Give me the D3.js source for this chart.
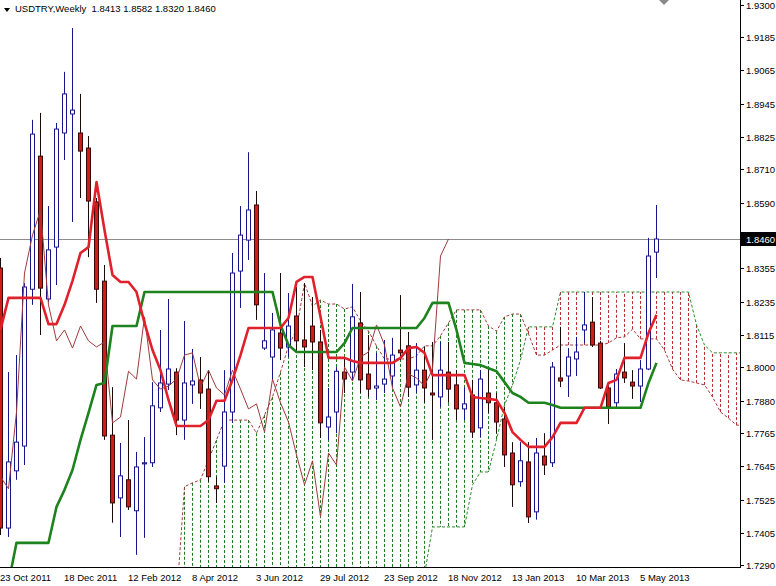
<!DOCTYPE html>
<html><head><meta charset="utf-8">
<script src="https://cdn.jsdelivr.net/npm/d3@7"></script>
<style>body{margin:0;background:#fff;} svg{display:block;font-family:"Liberation Sans",Arial,sans-serif;}</style>
</head><body><svg id="c" width="776" height="586"></svg>
<script>
const title = "USDTRY,Weekly  1.8413 1.8582 1.8320 1.8460";
const lastPrice = 1.8460;
const open = [1.8356,1.7424,1.7629,1.7718,1.8280,1.8757,1.8245,1.8431,1.8840,1.8908,
1.8840,1.8786,1.8593,1.8309,1.7757,1.7532,1.7597,1.7486,1.7654,1.7658,
1.7855,1.7940,1.7983,1.7811,1.7937,1.7955,1.7922,1.7575,1.7646,1.7840,
1.8345,1.8456,1.8582,1.8069,1.8037,1.8123,1.8073,1.8184,1.8098,1.8148,
1.8091,1.7786,1.7840,1.7983,1.7983,1.8159,1.7976,1.7926,1.7940,1.7969,
1.8062,1.8077,1.7937,1.7990,1.7908,1.7894,1.7983,1.7937,1.7851,1.7901,
1.7783,1.7908,1.7873,1.7815,1.7693,1.7590,1.7661,1.7482,1.7682,1.7658,
1.7962,1.7969,1.8030,1.8134,1.8162,1.8087,1.7926,1.7873,1.7983,1.7947,
1.7933,1.7994,1.8413];
const high = [1.8392,1.7983,1.8044,1.8302,1.8887,1.8912,1.8578,1.8876,1.9059,1.9216,
1.8980,1.8829,1.8607,1.8367,1.7929,1.7729,1.7811,1.7697,1.7750,1.7947,
1.8134,1.8245,1.7997,1.8166,1.8066,1.8037,1.7990,1.7608,1.7990,1.8410,
1.8578,1.8771,1.8632,1.8338,1.8195,1.8338,1.8266,1.8288,1.8302,1.8252,
1.8134,1.7926,1.8001,1.8037,1.8299,1.8270,1.8116,1.8052,1.8098,1.8106,
1.8259,1.8127,1.8087,1.8073,1.8091,1.8091,1.8091,1.7990,1.7929,1.7955,
1.7990,1.7997,1.7908,1.7858,1.7732,1.7732,1.7732,1.7747,1.7764,1.8019,
1.8145,1.8069,1.8109,1.8270,1.8252,1.8095,1.7944,1.7994,1.8087,1.7990,
1.8026,1.8464,1.8582];
const low = [1.7399,1.7392,1.7597,1.7650,1.8224,1.8116,1.8234,1.8295,1.8743,1.8521,
1.8607,1.8395,1.8231,1.7740,1.7443,1.7392,1.7489,1.7328,1.7389,1.7643,
1.7840,1.7919,1.7757,1.7740,1.7869,1.7851,1.7590,1.7514,1.7586,1.7801,
1.8213,1.8385,1.8170,1.8062,1.7955,1.8026,1.8037,1.8052,1.8001,1.7990,
1.7747,1.7740,1.7764,1.7908,1.7955,1.7908,1.7894,1.7883,1.7908,1.7929,
1.8026,1.7894,1.7908,1.7873,1.7740,1.7858,1.7873,1.7811,1.7811,1.7747,
1.7750,1.7837,1.7764,1.7643,1.7500,1.7572,1.7442,1.7454,1.7614,1.7643,
1.7929,1.7894,1.7969,1.8087,1.8073,1.7922,1.7797,1.7855,1.7944,1.7887,
1.7876,1.7990,1.8320];
const close = [1.7424,1.7661,1.7732,1.8288,1.8836,1.8284,1.8421,1.8854,1.8980,1.8922,
1.8775,1.8596,1.8280,1.7754,1.7514,1.7611,1.7500,1.7643,1.7658,1.7862,
1.7944,1.7994,1.7811,1.7944,1.7951,1.7908,1.7608,1.7565,1.7840,1.8338,
1.8474,1.8564,1.8224,1.8095,1.8134,1.8069,1.8148,1.8095,1.8073,1.8091,
1.7801,1.7822,1.7986,1.7958,1.8181,1.7955,1.7922,1.7933,1.7958,1.8044,
1.8052,1.7929,1.7990,1.7926,1.7901,1.7990,1.7922,1.7851,1.7869,1.7768,
1.7958,1.7873,1.7804,1.7686,1.7579,1.7665,1.7464,1.7693,1.7650,1.8001,
1.7951,1.8037,1.8055,1.8152,1.8080,1.7926,1.7858,1.7976,1.7962,1.7933,
1.7994,1.8399,1.8460];
const tenkan = [1.8134,1.8249,1.8249,1.8249,1.8249,1.8249,1.8155,1.8155,1.8224,1.8310,
1.8410,1.8431,1.8664,1.8492,1.8331,1.8306,1.8306,1.8270,1.8159,1.8062,
1.7990,1.7883,1.7790,1.7790,1.7790,1.7790,1.7811,1.7880,1.7880,1.7955,
1.8044,1.8141,1.8141,1.8141,1.8141,1.8141,1.8177,1.8306,1.8324,1.8324,
1.8181,1.8034,1.8034,1.8034,1.8023,1.8016,1.8016,1.8016,1.8016,1.8016,
1.8034,1.8069,1.8073,1.8052,1.7972,1.7972,1.7972,1.7972,1.7972,1.7894,
1.7890,1.7887,1.7883,1.7837,1.7768,1.7740,1.7715,1.7715,1.7715,1.7750,
1.7801,1.7801,1.7801,1.7855,1.7855,1.7855,1.7944,1.7955,1.8034,1.8034,
1.8034,1.8123,1.8188];
const kijun = [1.7202,1.7227,1.7371,1.7371,1.7371,1.7371,1.7371,1.7500,1.7561,1.7632,
1.7740,1.7837,1.7937,1.7944,1.8148,1.8148,1.8148,1.8148,1.8270,1.8270,
1.8270,1.8270,1.8270,1.8270,1.8270,1.8270,1.8270,1.8270,1.8270,1.8270,
1.8270,1.8270,1.8270,1.8270,1.8270,1.8152,1.8080,1.8055,1.8055,1.8055,
1.8055,1.8055,1.8055,1.8087,1.8141,1.8141,1.8141,1.8141,1.8141,1.8141,
1.8141,1.8141,1.8141,1.8177,1.8231,1.8231,1.8231,1.8134,1.8016,1.8012,
1.8008,1.7997,1.7986,1.7947,1.7908,1.7894,1.7873,1.7873,1.7873,1.7865,
1.7855,1.7855,1.7855,1.7855,1.7855,1.7855,1.7855,1.7855,1.7855,1.7855,
1.7855,1.7944,1.8016];
const spanStart = 22; // first bar of the (forward-shifted) cloud
const spanA = [1.7166,1.7572,1.7586,1.7597,1.7668,1.7740,1.7811,1.7811,1.7811,1.7811,
1.7764,1.7829,1.7894,1.7983,1.8077,1.8134,1.8302,1.8220,1.8241,1.8227,
1.8227,1.8209,1.8217,1.8166,1.8130,1.8077,1.8030,1.8030,1.8030,1.8030,
1.8041,1.8077,1.8077,1.8113,1.8159,1.8206,1.8206,1.8206,1.8206,1.8148,
1.8130,1.8181,1.8191,1.8191,1.8120,1.8044,1.8044,1.8062,1.8080,1.8080,
1.8080,1.8080,1.8080,1.8080,1.8087,1.8106,1.8109,1.8137,1.8102,1.8102,
1.8102,1.8062,1.7994,1.7955,1.7951,1.7944,1.7937,1.7894,1.7840,1.7818,
1.7793,1.7793];
const spanB = [1.7000,1.7000,1.7000,1.7000,1.7000,1.7000,1.7000,1.7000,1.7000,1.7000,
1.7000,1.7000,1.7000,1.7000,1.7000,1.7000,1.7000,1.7000,1.7000,1.7000,
1.7000,1.7000,1.7000,1.7000,1.7000,1.7000,1.7000,1.7000,1.7000,1.7000,
1.7000,1.7256,1.7428,1.7428,1.7428,1.7428,1.7428,1.7579,1.7625,1.7625,
1.7740,1.7865,1.7937,1.8026,1.8145,1.8145,1.8145,1.8145,1.8270,1.8270,
1.8270,1.8270,1.8270,1.8270,1.8270,1.8270,1.8270,1.8270,1.8270,1.8270,
1.8270,1.8270,1.8270,1.8270,1.8270,1.8152,1.8080,1.8052,1.8052,1.8052,
1.8052,1.8052];
const chikouShift = 26;
const priceTicks = [1.9300,1.9185,1.9065,1.8945,1.8825,1.8710,1.8590,1.8475,1.8355,1.8235,1.8115,1.8000,1.7880,1.7765,1.7645,1.7525,1.7405,1.7290];
const dateLabels = ["23 Oct 2011","18 Dec 2011","12 Feb 2012","8 Apr 2012","3 Jun 2012","29 Jul 2012","23 Sep 2012","18 Nov 2012","13 Jan 2013","10 Mar 2013","5 May 2013"];
const dateLabelBars = [0,8,16,24,32,40,48,56,64,72,80];

const PR = 740, PB = 567;
const svg = d3.select("#c");
const x = d3.scaleLinear().domain([0,1]).range([0.5,8.5]);
const y = d3.scaleLinear().domain([1.72844,1.93166]).range([PB,0]);

svg.append("defs").append("clipPath").attr("id","clip")
  .append("rect").attr("x",0).attr("y",0).attr("width",PR).attr("height",PB);
const g = svg.append("g").attr("clip-path","url(#clip)");

// cloud fill (dotted histogram)
const spanIdx = spanA.map((d,k)=>k+spanStart);
g.append("g").selectAll("line").data(spanIdx).join("line")
  .attr("x1",i=>x(i)).attr("x2",i=>x(i))
  .attr("y1",(i,k)=>y(spanA[k])).attr("y2",(i,k)=>y(spanB[k]))
  .attr("stroke",(i,k)=>spanA[k]>=spanB[k]?"#1f7a1f":"#b83232")
  .attr("stroke-width",1).attr("stroke-dasharray","3,2");
// span lines
const spanLine = arr => d3.line().x((d,k)=>x(k+spanStart)).y(d=>y(d))(arr);
g.append("path").attr("d",spanLine(spanB)).attr("fill","none")
  .attr("stroke","#2a8a2a").attr("stroke-width",1).attr("stroke-dasharray","3,2");
g.append("path").attr("d",spanLine(spanA)).attr("fill","none")
  .attr("stroke","#a83a3a").attr("stroke-width",1).attr("stroke-dasharray","3,2");

// price line
g.append("line").attr("x1",0).attr("x2",PR)
  .attr("y1",Math.round(y(lastPrice))+0.5).attr("y2",Math.round(y(lastPrice))+0.5)
  .attr("stroke","#8c8c8c").attr("stroke-width",1);

// candles
const idx = d3.range(close.length);
const cg = g.append("g");
cg.selectAll("line").data(idx).join("line")
  .attr("x1",i=>x(i)).attr("x2",i=>x(i))
  .attr("y1",i=>y(high[i])).attr("y2",i=>y(low[i]))
  .attr("stroke",i=>close[i]>=open[i]?"#16168a":"#1a0a0a").attr("stroke-width",1);
cg.selectAll("rect").data(idx).join("rect")
  .attr("x",i=>x(i)-2).attr("width",4)
  .attr("y",i=>y(Math.max(open[i],close[i])))
  .attr("height",i=>Math.max(1,Math.abs(y(open[i])-y(close[i]))))
  .attr("fill",i=>close[i]>=open[i]?"#ffffff":"#cc1c1c")
  .attr("stroke",i=>close[i]>=open[i]?"#16168a":"#3a0808").attr("stroke-width",1);

// chikou
const chik = d3.range(close.length-chikouShift);
g.append("path").attr("d",d3.line().x(i=>x(i)).y(i=>y(close[i+chikouShift]))(chik))
  .attr("fill","none").attr("stroke","#9e3a3a").attr("stroke-width",1);
// kijun & tenkan
g.append("path").attr("d",d3.line().x(i=>x(i)).y(i=>y(kijun[i]))(idx))
  .attr("fill","none").attr("stroke","#1e821e").attr("stroke-width",2.6).attr("stroke-linejoin","round");
g.append("path").attr("d",d3.line().x(i=>x(i)).y(i=>y(tenkan[i]))(idx))
  .attr("fill","none").attr("stroke","#e0202a").attr("stroke-width",2.6).attr("stroke-linejoin","round");

// axes
svg.append("line").attr("x1",PR+0.5).attr("x2",PR+0.5).attr("y1",0).attr("y2",PB+1).attr("stroke","#000");
svg.append("line").attr("x1",0).attr("x2",PR+1).attr("y1",PB+0.5).attr("y2",PB+0.5).attr("stroke","#000");
const yt = svg.append("g");
priceTicks.forEach(v=>{
  const yy = Math.round(y(v))+0.5;
  yt.append("line").attr("x1",PR+1).attr("x2",PR+4).attr("y1",yy).attr("y2",yy).attr("stroke","#000");
  yt.append("text").attr("x",PR+6).attr("y",yy+3.5).attr("font-size","9.5px").attr("fill","#000").text(v.toFixed(4));
});
// last price label
const ly = Math.round(y(lastPrice));
svg.append("rect").attr("x",PR+1).attr("y",ly-7).attr("width",776-PR-1).attr("height",14).attr("fill","#000");
svg.append("text").attr("x",PR+6).attr("y",ly+3.5).attr("font-size","9.5px").attr("fill","#fff").text(lastPrice.toFixed(4));
// date labels
dateLabels.forEach((t,k)=>{
  svg.append("text").attr("x",x(dateLabelBars[k])-0.5).attr("y",581).attr("font-size","9.5px").attr("fill","#000").text(t);
});
// title
svg.append("path").attr("d","M4,8 L10,8 L7,12 Z").attr("fill","#000");
svg.append("text").attr("x",15).attr("y",12).attr("font-size","9.5px").attr("fill","#000")
  .style("white-space","pre").text(title);
// chart shift marker
svg.append("path").attr("d","M659,0 L669,0 L664,5 Z").attr("fill","#8a8a8a");
</script></body></html>
